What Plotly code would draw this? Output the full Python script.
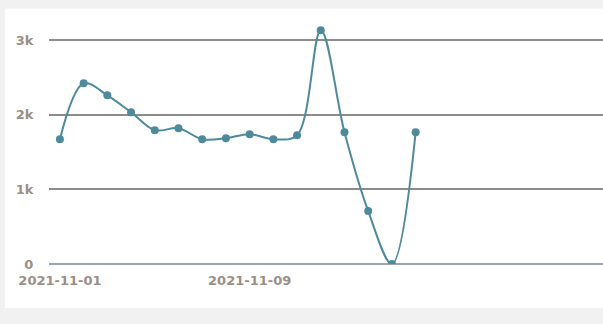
import plotly.graph_objects as go

dates = ["2021-11-%02d" % d for d in range(1, 17)]
values = [1674, 2424, 2263, 2036, 1795, 1821, 1674, 1687, 1741, 1674, 1728,
          3134, 1768, 710, 0, 1768]
y_ticks = [0, 1000, 2000, 3000]
y_tick_text = ["0", "1k", "2k", "3k"]

color = "#4f8a9c"
label_color = "#9a8f87"

fig = go.Figure()
fig.add_trace(go.Scatter(
    x=dates, y=values, mode="lines+markers",
    line=dict(color=color, width=2, shape="spline", smoothing=1.0),
    marker=dict(color=color, size=8),
    hoverinfo="x+y", showlegend=False,
))

fig.update_layout(
    width=603, height=324,
    margin=dict(l=49, r=0, t=17.6, b=60),
    paper_bgcolor="#f1f1f1",
    plot_bgcolor="white",
    font=dict(family="DejaVu Sans", size=13, color=label_color),
    shapes=[dict(type="rect", xref="paper", yref="paper",
                 x0=-0.0794, x1=1.05, y0=-0.1786, y1=1.039,
                 fillcolor="white", line=dict(width=0), layer="below")],
)
fig.update_xaxes(
    type="category", range=[-0.46, 22.9],
    tickvals=dates[::8], ticktext=dates[::8],
    showgrid=False, showline=False, zeroline=False,
    tickfont=dict(family="DejaVu Sans", size=13, color=label_color, weight="bold"),
    ticks="outside", ticklen=4, tickcolor="rgba(0,0,0,0)",
)
fig.update_yaxes(
    range=[0, 3300], tickvals=y_ticks, ticktext=y_tick_text,
    showgrid=True, gridcolor="#8c8c8c", gridwidth=2,
    zeroline=True, zerolinecolor="#9aa6b8", zerolinewidth=1.5,
    showline=False,
    tickfont=dict(family="DejaVu Sans", size=13, color=label_color, weight="bold"),
    ticks="outside", ticklen=12, tickcolor="rgba(0,0,0,0)",
)

fig.write_html("out.html")
